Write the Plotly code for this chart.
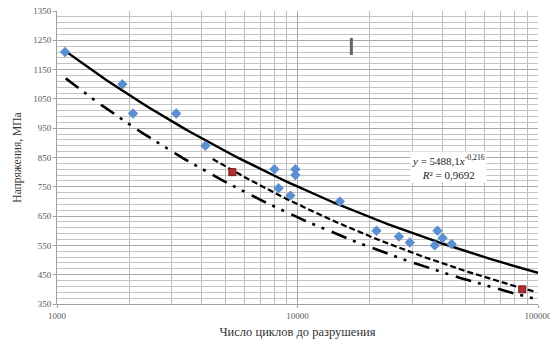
import numpy as np
import plotly.graph_objects as go

# experimental points (blue diamonds)
cycles = [1080, 1870, 2070, 3130, 4140, 8020, 8340, 9350, 9800, 9800,
          15000, 21300, 26400, 29300, 37200, 38200, 40100, 43700]
stress = [1210, 1100, 1000, 1000, 890, 810, 745, 720, 810, 790,
          700, 600, 580, 560, 550, 600, 575, 555]

# red points
red_cycles = [5360, 86000]
red_stress = [800, 400]

# power trend  y = a * x^b
trend_a, trend_b = 5488.1, -0.216
trend_x = [1080, 100000]

# dashed curve (through red points) and dash-dot lower bound: y = c*x^d
dash_c, dash_d = 845 * 4440 ** 0.249, -0.249
dash_x = [4440, 97000]
dd_c, dd_d = 1120 * 1087 ** 0.248, -0.248
dd_x = [1087, 100000]

y_first_tick, y_step, y_minor_step = 350, 100, 20

def curve(c, d, xr, n=80):
    xs = np.logspace(np.log10(xr[0]), np.log10(xr[1]), n)
    return xs, c * xs ** d

fig = go.Figure()

xs, ys = curve(dd_c, dd_d, dd_x)
fig.add_trace(go.Scatter(x=xs, y=ys, mode="lines",
                         line=dict(color="black", width=2.6, dash="16px,7px,3px,7px,3px,8px"),
                         hoverinfo="skip"))
xs, ys = curve(dash_c, dash_d, dash_x)
fig.add_trace(go.Scatter(x=xs, y=ys, mode="lines",
                         line=dict(color="black", width=2.2, dash="6px,3px"),
                         hoverinfo="skip"))
xs, ys = curve(trend_a, trend_b, trend_x)
fig.add_trace(go.Scatter(x=xs, y=ys, mode="lines",
                         line=dict(color="black", width=2.4),
                         hoverinfo="skip"))

fig.add_trace(go.Scatter(x=cycles, y=stress, mode="markers",
                         marker=dict(symbol="diamond", size=8, color="#5b8fd0",
                                     line=dict(width=0))))
fig.add_trace(go.Scatter(x=red_cycles, y=red_stress, mode="markers",
                         marker=dict(symbol="square", size=7, color="#b03030",
                                     line=dict(width=1, color="#7a1a1a"))))

# cursor-like mark
fig.add_shape(type="line", x0=16750, x1=16750, y0=1200, y1=1258,
              line=dict(color="#666666", width=3))

fig.add_annotation(x=np.log10(42600), y=817, xref="x", yref="y",
                   text="<i>y</i> = 5488,1<i>x</i><sup>-0,216</sup><br><i>R</i>² = 0,9692",
                   showarrow=False, bgcolor="white",
                   font=dict(family="Liberation Serif", size=11, color="#222222"),
                   align="center")

fig.update_layout(
    width=550, height=347,
    margin=dict(l=57, r=12, t=11, b=43),
    paper_bgcolor="white", plot_bgcolor="white",
    showlegend=False,
    font=dict(family="Liberation Serif", size=9, color="#595959"),
)
fig.update_xaxes(
    type="log", range=[3, 5], dtick=1, tickformat="d",
    ticklabeloverflow="allow", automargin=False,
    showgrid=True, gridcolor="#a8a8a8", gridwidth=1,
    minor=dict(dtick="D1", showgrid=True, gridcolor="#bdbdbd", gridwidth=1),
    showline=True, linecolor="#a0a0a0", linewidth=1,
    ticks="outside", ticklen=3, tickcolor="#a0a0a0",
    mirror=False, zeroline=False,
    title=dict(text="Число циклов до разрушения", standoff=7,
               font=dict(family="Liberation Serif", size=12.5, color="#333333")),
)
fig.update_yaxes(
    range=[350, 1350], tick0=y_first_tick, dtick=y_step,
    showgrid=True, gridcolor="#a8a8a8", gridwidth=1,
    minor=dict(dtick=y_minor_step, tick0=y_first_tick, showgrid=True,
               gridcolor="#c4c4c4", gridwidth=1),
    showline=True, linecolor="#a0a0a0", linewidth=1,
    ticks="outside", ticklen=3, tickcolor="#a0a0a0",
    zeroline=False, automargin=False,
    title=dict(text="Напряжения, МПа", standoff=9,
               font=dict(family="Liberation Serif", size=11.5, color="#333333")),
)

fig.write_html("out.html")
